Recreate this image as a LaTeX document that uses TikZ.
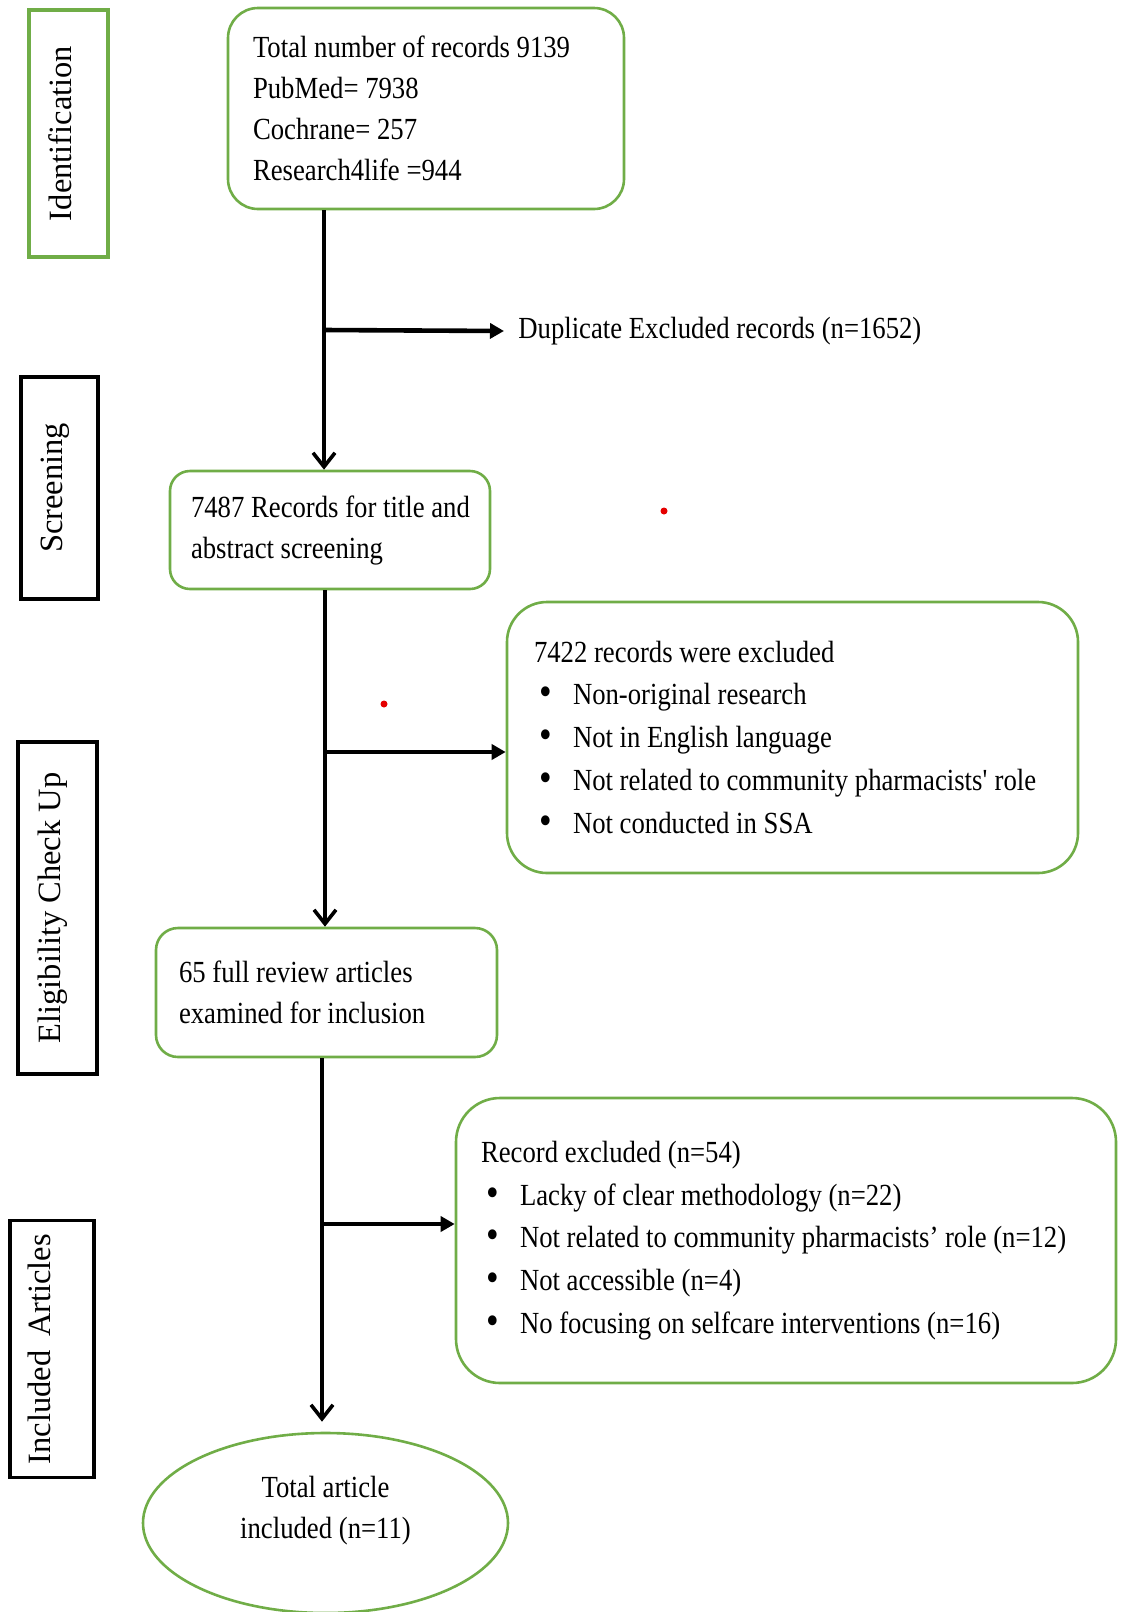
\documentclass[tikz,border=0pt]{standalone}
\usepackage{fontspec}
\setmainfont{Liberation Serif}[FakeStretch=0.87]
\newfontfamily\stagefont{Liberation Serif}
\usepackage{tikz}
\usetikzlibrary{arrows.meta, positioning, shapes.geometric}

\definecolor{pgreen}{RGB}{112,173,71}
\newcommand\boxsize{\fontsize{15.35pt}{20.5pt}\selectfont}
\newcommand\listsize{\fontsize{15.35pt}{21.4pt}\selectfont}
\newcommand\bitem[1]{\hspace*{2.5pt}\makebox[17pt][l]{\raisebox{-0.5pt}{\scalebox{1.35}{\textbullet}}}\mbox{#1}}

\tikzset{
    box/.style={draw=pgreen, line width=1.3pt, fill=white, align=flush left, font=\boxsize, inner ysep=0pt},
    stage/.style={draw=black, line width=1.6pt, rotate=90, inner sep=0pt,
        font=\stagefont\fontsize{16.25pt}{18pt}\selectfont, text height=11pt, text depth=8pt},
    flow/.style={line width=1.8pt, -{Straight Barb[length=7pt, width=11pt]}},
    side/.style={line width=2.3pt, -{Triangle[length=7pt, width=7.5pt]}},
    plain/.style={font=\boxsize, inner ysep=0pt}
}

\begin{document}
\begin{tikzpicture}[x=0.5pt, y=-0.5pt]
    \useasboundingbox (0,0) rectangle (1121,1612);

    \node[stage, draw=pgreen, minimum width=123.5pt, minimum height=39.5pt] (idn) at (68.5,133.5) {Identification};
    \node[stage, minimum width=111pt, minimum height=38.5pt] (scr) at (59.5,488) {Screening};
    \node[stage, minimum width=166pt, minimum height=39.5pt] (elig) at (57.5,908) {Eligibility Check Up};
    \node[stage, minimum width=128.5pt, minimum height=42pt, text height=10pt, text depth=11.5pt] (inc) at (52,1349) {Included\, Articles};

    \node[box, rounded corners=15pt, minimum width=198pt, minimum height=100.5pt, text width=173pt, inner xsep=12.5pt]
        (total) at (426,108.5) {Total number of records 9139\\PubMed= 7938\\Cochrane= 257\\Research4life =944};
    \node[box, rounded corners=10pt, minimum width=160pt, minimum height=59pt, text width=139pt, inner xsep=10.5pt]
        (recs) at (330,530) {\mbox{7487 Records for title and}\\abstract screening};
    \node[box, rounded corners=20pt, minimum width=285.5pt, minimum height=135.5pt, text width=258.5pt, inner xsep=13.5pt, font=\listsize]
        (exA) at (792.5,737.5) {7422 records were excluded\\
        \bitem{Non-original research}\\
        \bitem{Not in English language}\\
        \bitem{Not related to community pharmacists\textquotesingle{} role}\\
        \bitem{Not conducted in SSA}};
    \node[box, rounded corners=11pt, minimum width=170.5pt, minimum height=64.5pt, text width=147.5pt, inner xsep=11.5pt]
        (full) at (326.5,992.5) {65 full review articles\\examined for inclusion};
    \node[box, rounded corners=22pt, minimum width=330pt, minimum height=142.5pt, text width=305pt, inner xsep=12.5pt, font=\listsize]
        (exB) at (786,1240.5) {Record excluded (n=54)\\
        \bitem{Lacky of clear methodology (n=22)}\\
        \bitem{Not related to community pharmacists’ role (n=12)}\\
        \bitem{Not accessible (n=4)}\\
        \bitem{No focusing on selfcare interventions (n=16)}};
    \node[ellipse, draw=pgreen, line width=1.3pt, minimum width=182.5pt, minimum height=90pt] (incl) at (325.5,1523) {};
    \node[plain, align=center] (incltxt) at (325.5,1511) {Total article\\included (n=11)};

    \node[plain, anchor=west, inner xsep=7pt] (dup) at (504,331) {Duplicate Excluded records (n=1652)};

    \coordinate (j1) at (324,330);
    \coordinate (j2) at (325,752);
    \coordinate (j3) at (322,1224);

    \draw[flow] (total.south -| j1) -- (recs.north -| j1);
    \draw[side] (j1) -- (dup.west);
    \draw[flow] (recs.south -| j2) -- (full.north -| j2);
    \draw[side] (j2) -- (j2 -| exA.west);
    \draw[flow, shorten >=5pt] (full.south -| j3) -- (incl.north -| j3);
    \draw[side] (j3) -- (j3 -| exB.west);

    \fill[red!90!black] (664,511) circle (1.75pt);
    \fill[red!90!black] (384,704) circle (1.75pt);
\end{tikzpicture}
\end{document}
